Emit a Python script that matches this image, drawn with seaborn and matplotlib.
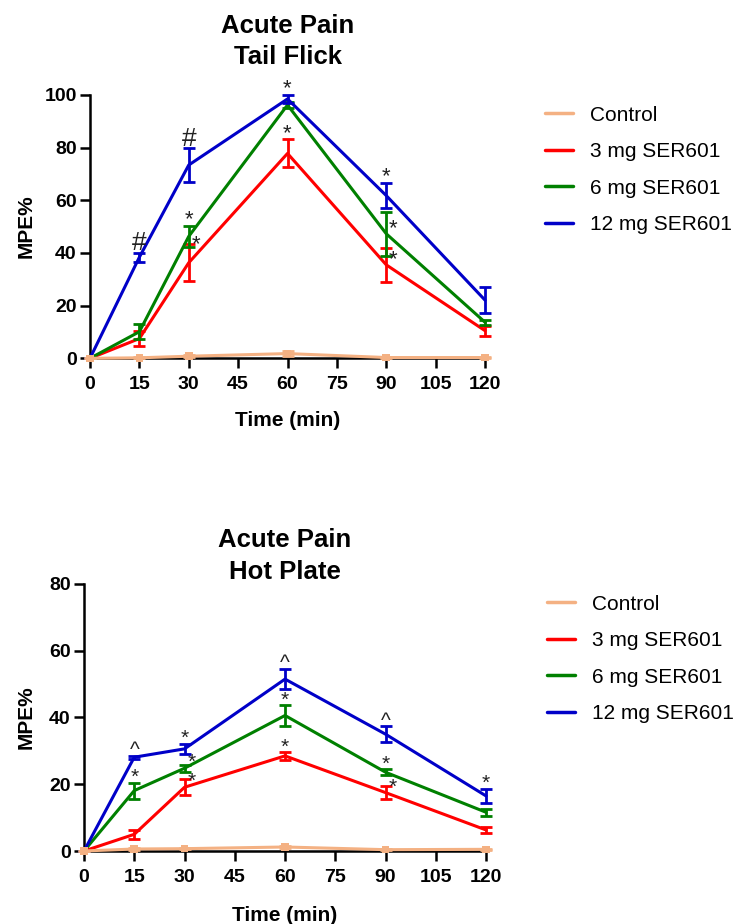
import matplotlib
matplotlib.use("Agg")
import matplotlib.pyplot as plt
from matplotlib.lines import Line2D
import seaborn as sns
import pandas as pd

# Time points (min) and groups
times = [0, 15, 30, 60, 90, 120]
groups = ["Control", "3 mg SER601", "6 mg SER601", "12 mg SER601"]

# Tail flick MPE% (mean, SEM)
tf_control = [0, 0.2, 0.8, 1.8, 0.3, 0.3]
tf_3mg = [0, 7.5, 36.3, 77.8, 35.5, 10.5]
tf_6mg = [0, 10.1, 46.3, 96.2, 47.3, 13.7]
tf_12mg = [0, 38.4, 73.4, 98.5, 61.8, 22.1]
tf_control_sem = [0, 0.2, 0.3, 0.8, 0.2, 0.2]
tf_3mg_sem = [0, 2.7, 7.0, 5.3, 6.5, 1.9]
tf_6mg_sem = [0, 2.9, 3.9, 1.0, 8.4, 1.0]
tf_12mg_sem = [0, 1.7, 6.3, 1.5, 4.9, 4.9]

# Hot plate MPE% (mean, SEM)
hp_control = [0, 0.6, 0.7, 1.2, 0.4, 0.5]
hp_3mg = [0, 5.0, 19.1, 28.5, 17.5, 6.3]
hp_6mg = [0, 18.1, 24.8, 40.6, 23.6, 11.6]
hp_12mg = [0, 28.1, 30.6, 51.5, 35.0, 16.5]
hp_control_sem = [0, 0.2, 0.2, 0.3, 0.1, 0.1]
hp_3mg_sem = [0, 1.3, 2.4, 1.2, 2.0, 1.0]
hp_6mg_sem = [0, 2.4, 1.0, 3.2, 0.9, 1.0]
hp_12mg_sem = [0, 0.5, 1.6, 3.1, 2.4, 2.2]

# Significance marks: (group, time, symbol, placement)
tf_marks = [
    ("12 mg SER601", 15, "#", "top"), ("12 mg SER601", 30, "#", "top"),
    ("12 mg SER601", 60, "*", "top"), ("3 mg SER601", 60, "*", "top"),
    ("6 mg SER601", 30, "*", "top"), ("3 mg SER601", 30, "*", "side_top"),
    ("12 mg SER601", 90, "*", "top"), ("6 mg SER601", 90, "*", "side"),
    ("3 mg SER601", 90, "*", "side"),
]
hp_marks = [
    ("12 mg SER601", 15, "^", "top"), ("6 mg SER601", 15, "*", "top"),
    ("12 mg SER601", 30, "*", "top"), ("6 mg SER601", 30, "*", "side"),
    ("3 mg SER601", 30, "*", "side"), ("12 mg SER601", 60, "^", "top"),
    ("6 mg SER601", 60, "*", "top"), ("3 mg SER601", 60, "*", "top"),
    ("12 mg SER601", 90, "^", "top"), ("6 mg SER601", 90, "*", "top"),
    ("3 mg SER601", 90, "*", "side"), ("12 mg SER601", 120, "*", "top"),
]

palette = {"Control": "#F4B183", "3 mg SER601": "#FF0000",
           "6 mg SER601": "#008000", "12 mg SER601": "#0000C8"}

sns.set_style("ticks")
plt.rcParams["font.family"] = ["Liberation Sans", "DejaVu Sans"]
for key in ("text.color", "axes.labelcolor", "xtick.color", "ytick.color",
            "axes.edgecolor"):
    plt.rcParams[key] = "black"


def make_frame(means, sems):
    rows = []
    for g, m, s in zip(groups, means, sems):
        for t, v, e in zip(times, m, s):
            rows.append({"time": t, "mpe": v, "sem": e, "group": g})
    return pd.DataFrame(rows)


def draw_panel(ax, df, marks, title, ymax, title_pad, mark_size, top_off):
    for g in groups:
        sub = df[df["group"] == g]
        z = 4 if g == "Control" else 3
        sns.lineplot(data=sub, x="time", y="mpe", color=palette[g], lw=2.2,
                     ax=ax, legend=False, clip_on=False, zorder=z)
        ax.errorbar(sub["time"], sub["mpe"], yerr=sub["sem"], fmt="none",
                    ecolor=palette[g], elinewidth=2, capsize=4, capthick=2,
                    clip_on=False, zorder=z)
    ctrl = df[df["group"] == "Control"]
    sns.scatterplot(data=ctrl, x="time", y="mpe", marker="s", s=30,
                    color=palette["Control"], edgecolor="none", ax=ax,
                    legend=False, clip_on=False, zorder=5)

    for g, t, sym, place in marks:
        row = df[(df["group"] == g) & (df["time"] == t)].iloc[0]
        if place == "top":
            y, off = row["mpe"] + row["sem"], (0, top_off)
        elif place == "side_top":
            y, off = row["mpe"] + row["sem"], (5, 0)
        else:
            y, off = row["mpe"], (5, 4)
        size = mark_size
        if sym == "#":
            size = mark_size + 3
            off = (off[0], off[1] + 2.5)
        ax.annotate(sym, (t, y), xytext=off, textcoords="offset points",
                    ha="center", va="center", fontsize=size,
                    color="#222222", annotation_clip=False)

    ax.set_xlim(0, 120)
    ax.set_ylim(0, ymax)
    ax.set_xticks(range(0, 121, 15))
    ax.set_yticks(range(0, ymax + 1, 20))
    sns.despine(ax=ax)
    for sp in ("left", "bottom"):
        ax.spines[sp].set_linewidth(1.8)
    ax.tick_params(width=1.8, length=7.5, labelsize=14)
    ax.tick_params(axis="x", pad=5.5)
    ax.tick_params(axis="y", pad=2)
    for lab in ax.get_xticklabels() + ax.get_yticklabels():
        lab.set_fontweight("bold")
    ax.set_xlabel("Time (min)", fontsize=15, fontweight="bold")
    ax.set_ylabel("MPE%", fontsize=15, fontweight="bold")
    ax.set_title(title, fontsize=18.5, fontweight="bold", linespacing=1.4,
                 pad=title_pad)

    handles = [Line2D([], [], color=palette[g], lw=2.5) for g in groups]
    ax.legend(handles, groups, loc="upper left", bbox_to_anchor=(1.152, 0.96),
              frameon=False, fontsize=15, handlelength=1.35,
              handletextpad=0.8, labelspacing=0.84, borderpad=0,
              borderaxespad=0)


fig = plt.figure(figsize=(7.37, 9.24), dpi=100)
ax1 = fig.add_axes([0.1221, 0.6122, 0.536, 0.285])
ax2 = fig.add_axes([0.114, 0.079, 0.5455, 0.289])

tf = make_frame([tf_control, tf_3mg, tf_6mg, tf_12mg],
                [tf_control_sem, tf_3mg_sem, tf_6mg_sem, tf_12mg_sem])
hp = make_frame([hp_control, hp_3mg, hp_6mg, hp_12mg],
                [hp_control_sem, hp_3mg_sem, hp_6mg_sem, hp_12mg_sem])

draw_panel(ax1, tf, tf_marks, "Acute Pain\nTail Flick", 100, 22, 16, 4.5)
draw_panel(ax2, hp, hp_marks, "Acute Pain\nHot Plate", 80, -4, 15, 3.5)
# keep the lower title sitting on the top of its axis
ax2.title.set_y(0.99)

ax1.yaxis.set_label_coords(-0.137, 0.5)
ax2.yaxis.set_label_coords(-0.12, 0.5)
ax1.xaxis.set_label_coords(0.5, -0.2)
ax2.xaxis.set_label_coords(0.5, -0.205)

fig.savefig("out.png", dpi=100)
